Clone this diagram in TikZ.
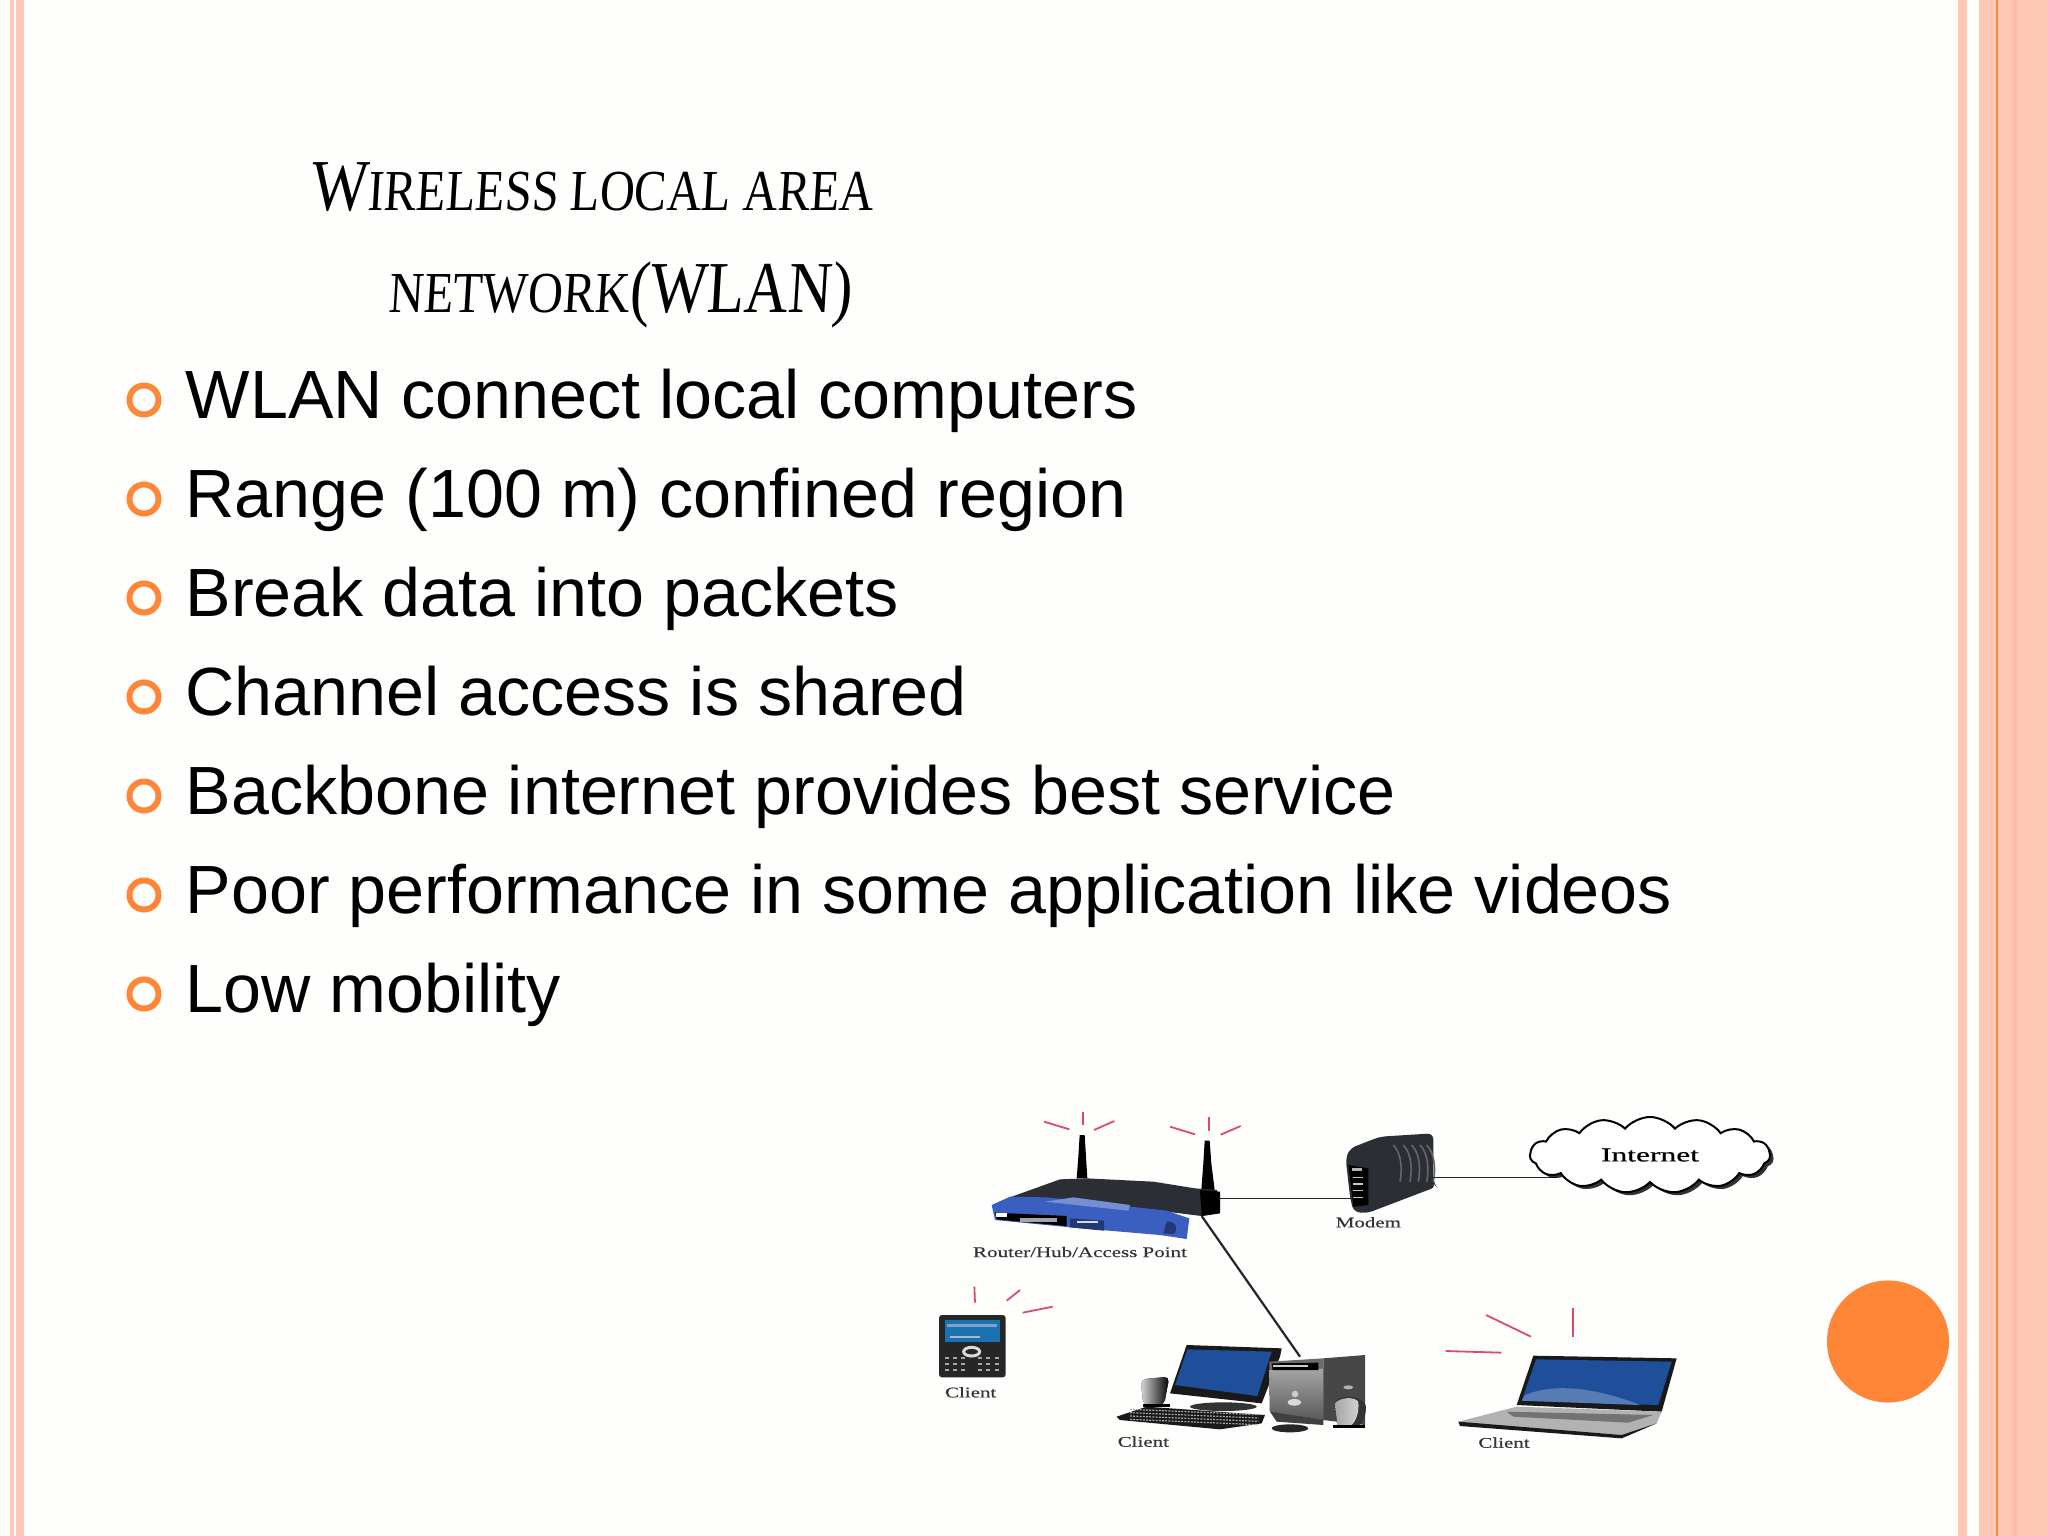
\documentclass[tikz,border=0pt]{standalone}
\usepackage{fontspec}
\usetikzlibrary{shapes.symbols,shadows}
\setmainfont{Liberation Sans}
\newfontfamily\titlefont[FakeStretch=0.83,FakeSlant=0.06]{Liberation Serif}
\newfontfamily\labelfont[FakeStretch=1.42,FakeBold=0.4]{Liberation Serif}
\newfontfamily\cloudfont[FakeStretch=1.6,FakeBold=0.5]{Liberation Serif}
\definecolor{paper}{HTML}{FEFEFD}
\definecolor{stripe}{HTML}{FFC8B4}
\definecolor{stripedark}{HTML}{FBBBA4}
\definecolor{accent}{HTML}{FF8637}
\definecolor{ray}{HTML}{DC4A6C}
\definecolor{routerblue}{HTML}{3B5FC0}
\definecolor{screenblue}{HTML}{1F4F9A}
\definecolor{body}{HTML}{2B2E34}
\tikzset{
  bullet/.style={circle, draw=accent, line width=0.06cm, minimum size=0.29cm, inner sep=0pt},
  item/.style={anchor=base west, inner sep=0pt, font=\fontsize{19.4}{23}\selectfont},
  devlabel/.style={inner sep=0pt, text=black!80, font=\labelfont\fontsize{4.2}{5}\selectfont},
  link/.style={draw=black!85, line width=0.012cm},
  signal/.style={draw=ray, line width=0.018cm}
}
\newcommand{\titlecap}[1]{{\fontsize{20.8}{24}\selectfont #1}}
\begin{document}
\begin{tikzpicture}[x=0.01cm, y=-0.01cm]

    % Page and side stripes
    \useasboundingbox (0,0) rectangle (2048,1536);
    \fill[paper] (0,0) rectangle (2048,1536);
    \fill[stripe] (10,0) rectangle (24,1536);
    \fill[white] (14,0) rectangle (15.5,1536);
    \fill[stripe] (1958,0) rectangle (1967,1536);
    \fill[stripe] (1979,0) rectangle (2048,1536);
    \fill[accent] (1996,0) rectangle (1998,1536);
    \fill[stripedark] (2013,0) rectangle (2017,1536);
    \node[circle, fill=accent, minimum size=1.22cm, inner sep=0pt] (dot) at (1888,1341.5) {};

    % Title lines
    \node[anchor=base, inner sep=0pt, font=\titlefont\fontsize{16.5}{20}\selectfont] (title1) at (592,210) {\titlecap{W}IRELESS LOCAL AREA};
    \node[anchor=base, inner sep=0pt, font=\titlefont\fontsize{16.5}{20}\selectfont] (title2) at (620,312) {NETWORK\titlecap{(WLAN)}};

    % Bullet list
    \foreach \i/\ypos/\txt in {1/418/WLAN connect local computers,
                               2/517/Range (100 m) confined region,
                               3/616/Break data into packets,
                               4/715/Channel access is shared,
                               5/814/Backbone internet provides best service,
                               6/913/Poor performance in some application like videos,
                               7/1012/Low mobility} {
        \node[bullet] (bul\i) at (144,\ypos-18) {};
        \node[item] (item\i) at (185,\ypos) {\txt};
    }

    % Left group, typed in thirds of a pixel
    \begin{scope}[shift={(900,1090)}, x=0.01cm/3, y=-0.01cm/3]
        % Rays of the router and the phone
        \foreach \xa/\ya/\xb/\yb in {432/95/508/118, 548/65/548/105, 582/120/643/93,
                                     810/110/885/133, 927/80/927/122, 962/134/1022/108,
                                     223/590/225/638, 320/632/360/600, 368/668/458/650} {
            \draw[signal] (\xa,\ya) -- (\xb,\yb);
        }
        % Router
        \fill[black] (539,135) -- (554,135) -- (558,200) -- (562,265) -- (530,265) -- (535,200) -- cycle;
        \fill[black] (914,152) -- (929,152) -- (934,220) -- (944,300) -- (904,300) -- (910,220) -- cycle;
        \fill[body] (330,322) -- (480,268) -- (560,265) -- (760,275) -- (885,295) -- (950,300) -- (960,320) -- (955,370) -- (905,378) -- (800,365) -- (440,325) -- cycle;
        \fill[routerblue] (275,345) -- (330,320) -- (440,322) -- (800,362) -- (868,385) -- (860,447) -- (780,435) -- (510,412) -- (285,390) -- cycle;
        \fill[routerblue!70!white] (435,335) -- (520,322) -- (690,345) -- (685,362) -- cycle;
        \fill[black] (285,368) -- (500,378) -- (500,408) -- (290,388) -- cycle;
        \fill[white] (288,369) rectangle (322,380);
        \fill[gray!70] (360,385) rectangle (470,395);
        \fill[routerblue!60!black] (510,385) -- (612,392) -- (612,422) -- (510,412) -- cycle;
        \fill[white!70!gray] (530,392) rectangle (595,400);
        \fill[routerblue!60!black] (800,395) .. controls (830,390) and (835,420) .. (822,432) -- (790,430) -- cycle;
        \fill[black] (900,300) -- (960,305) -- (960,370) -- (905,378) -- cycle;
        \coordinate (routerE) at (958,325);
        \coordinate (routerS) at (905,378);
        \node[devlabel] (routerlabel) at (540,486) {Router/Hub/Access Point};
        % Phone
        \fill[black!85, rounded corners=0.03cm] (117,675) rectangle (317,862);
        \fill[screenblue!80!cyan] (135,690) rectangle (300,755);
        \fill[screenblue!55!white] (140,702) rectangle (290,712);
        \fill[screenblue!40!white] (150,738) rectangle (240,743);
        \draw[white!85!black, line width=0.03cm] (215,785) circle [x radius=24, y radius=13];
        \foreach \kx in {140,165,190,240,265,290} {
            \foreach \ky in {805,822,840} {
                \fill[gray!70] (\kx-6,\ky-3) rectangle (\kx+6,\ky+3);
            }
        }
        \node[devlabel] (phonelabel) at (212,907) {Client};
        % Desktop: speaker, monitor, keyboard
        \fill[left color=gray!30, right color=black, rounded corners=0.05cm] (722,868) -- (808,860) -- (792,945) -- (730,945) -- cycle;
        \fill[black] (730,942) rectangle (810,950);
        \fill[black!80] (970,950) circle [x radius=100, y radius=13];
        \fill[black!90] (860,765) -- (1145,775) -- (1140,800) -- (1085,940) -- (810,910) -- cycle;
        \fill[screenblue] (862,778) -- (1115,785) -- (1072,918) -- (825,885) -- cycle;
        \fill[black!90] (650,980) -- (740,950) -- (1095,975) -- (1085,1000) -- (960,1018) -- (660,990) -- cycle;
        \foreach \ky in {958,968,978,988} {
            \draw[gray!70, line width=0.012cm, dash pattern=on 0.02cm off 0.012cm] (690,\ky) -- (1075,\ky+16);
        }
        % Desktop: tower, mouse
        \fill[black!72] (1270,805) -- (1395,795) -- (1395,1005) -- (1270,990) -- cycle;
        \fill[gray!85!black] (1108,815) -- (1270,805) -- (1270,990) -- (1110,965) -- cycle;
        \fill[top color=gray!70, bottom color=black!65] (1108,840) -- (1270,835) -- (1270,990) -- (1110,965) -- cycle;
        \fill[black] (1115,820) -- (1255,818) -- (1255,840) -- (1118,840) -- cycle;
        \fill[gray!40] (1120,825) rectangle (1225,832);
        \fill[black!75] (1110,965) -- (1270,990) -- (1270,1005) -- (1130,995) -- cycle;
        \fill[white!80!black] (1185,912) circle [radius=10];
        \fill[white!85!black] (1183,937) circle [x radius=20, y radius=10];
        \fill[gray!60] (1345,892) circle [x radius=15, y radius=6];
        \fill[black!85] (1170,1015) circle [x radius=55, y radius=12];
        \coordinate (towerN) at (1200,800);
        \node[devlabel] (desktoplabel) at (730,1055) {Client};
    \end{scope}

    % Right group, typed in thirds of a pixel
    \begin{scope}[shift={(1300,1090)}, x=0.01cm/3, y=-0.01cm/3]
        % Speaker beside the tower
        \fill[black!80] (110,930) .. controls (130,915) and (180,915) .. (197,945) .. controls (200,975) and (190,1000) .. (170,1010) -- (115,1010) -- cycle;
        \fill[left color=gray!70, right color=gray!35] (105,940) .. controls (120,920) and (165,920) .. (175,935) .. controls (178,965) and (170,990) .. (155,1005) -- (112,1008) -- cycle;
        \fill[black] (100,1006) rectangle (195,1015);
        % Modem
        \fill[body, rounded corners=0.06cm] (137,205) -- (150,175) -- (240,140) -- (400,130) -- (400,280) -- (410,290) -- (200,370) -- (160,365) -- (150,320) -- cycle;
        \foreach \rx in {285,315,340,365,385} {
            \draw[black!60, line width=0.016cm] (\rx-5,165) .. controls (\rx+20,190) and (\rx+22,240) .. (\rx+15,275);
        }
        \fill[black] (145,225) -- (205,235) -- (205,345) -- (160,350) -- cycle;
        \fill[gray!60] (155,235) rectangle (185,242);
        \foreach \ky in {260,280,300,320} {
            \fill[gray!45] (160,\ky) rectangle (190,\ky+4);
        }
        \coordinate (modemW) at (155,325);
        \coordinate (modemE) at (390,262);
        \coordinate (cloudW) at (770,262);
        \node[devlabel] (modemlabel) at (205,397) {Modem};
        % Laptop
        \foreach \xa/\ya/\xb/\yb in {558/675/693/740, 820/655/820/742, 437/783/604/788} {
            \draw[signal] (\xa,\ya) -- (\xb,\yb);
        }
        \fill[black!90] (700,797) -- (1130,805) -- (1085,965) -- (650,945) -- cycle;
        \fill[screenblue] (708,808) -- (1115,815) -- (1075,945) -- (665,932) -- cycle;
        \fill[screenblue!75!white] (675,915) .. controls (760,880) and (880,890) .. (1020,945) -- (665,932) -- cycle;
        \fill[gray!60] (475,995) -- (650,950) -- (1085,965) -- (1070,1000) -- (965,1035) -- (480,1000) -- cycle;
        \fill[black!55] (620,965) -- (1060,975) -- (985,998) -- (640,980) -- cycle;
        \fill[black!90] (475,995) -- (965,1035) -- (1070,1000) -- (965,1045) -- (480,1008) -- cycle;
        \node[devlabel] (laptoplabel) at (612,1058) {Client};
    \end{scope}

    % Links
    \draw[link] (routerE) -- (modemW);
    \draw[link] (modemE) -- (cloudW);
    \draw[draw=black!85, line width=0.022cm] (routerS) -- (towerN);

    % Internet cloud
    \node[cloud, cloud puffs=15, cloud puff arc=100, cloud ignores aspect, draw=black, line width=0.02cm, fill=white,
          drop shadow={shadow xshift=0.035cm, shadow yshift=-0.03cm, opacity=0.8, fill=black},
          minimum width=2.4cm, minimum height=0.76cm, inner sep=0pt,
          font=\cloudfont\fontsize{5.6}{6}\selectfont] (internet) at (1650,1155) {Internet};

\end{tikzpicture}
\end{document}
